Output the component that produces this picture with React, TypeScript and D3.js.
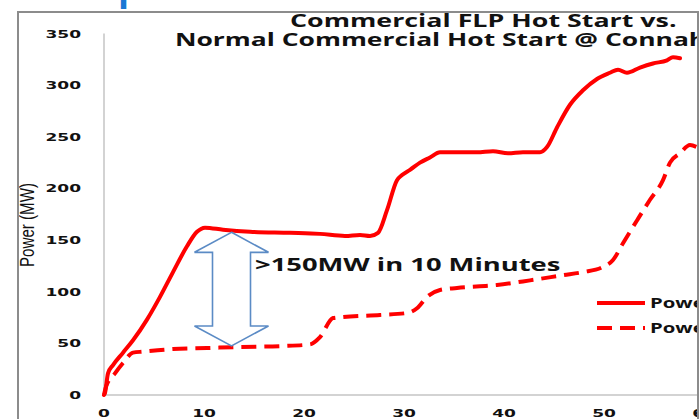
import React from "react";
import * as d3 from "d3";

const flpTime = [0, 0.1, 0.4, 0.9, 1.9, 2.9, 4.3, 5.6, 6.9, 8.3, 9.3, 10.1, 11.9, 14.6, 18.6, 21.6, 24.1, 25.6, 26.6, 27.4, 28.3, 29.3, 29.8, 30.6, 31.6, 32.6, 33.6, 35.6, 37.3, 38.9, 40.4, 41.9, 43.6, 44.3, 45.3, 46.6, 47.9, 49.3, 50.6, 51.4, 52.3, 53.6, 54.9, 56.3, 56.9, 57.6];
const flpPower = [0, 2, 21, 29, 41, 53, 73, 95, 119, 144, 158, 162, 160, 158, 157, 156, 154, 155, 154, 157, 179, 208, 213, 218, 225, 230, 235, 235, 235, 236, 234, 235, 235, 240, 259, 281, 295, 306, 312, 315, 312, 317, 321, 324, 327, 326];

const normalTime = [0, 0.2, 1.1, 1.9, 2.9, 3.9, 6.9, 10.3, 13.6, 17.9, 20.6, 21.6, 22.9, 23.9, 27.6, 30.3, 31.3, 32.3, 33.6, 35.3, 39.3, 42.6, 45.9, 47.9, 49.9, 50.9, 51.9, 53.3, 54.6, 55.9, 56.6, 57.6, 58.6, 59.3];
const normalPower = [0, 8, 21, 31, 41, 42, 44.5, 45.5, 46.5, 47.4, 49, 56, 74.5, 75.5, 77.5, 79.4, 84, 95, 101.7, 103.6, 106.5, 111, 116, 119, 124, 130.7, 147, 169, 189, 208, 225, 234, 242, 240];

const xTicks = [0, 10, 20, 30, 40, 50, 60];
const yTicks = [0, 50, 100, 150, 200, 250, 300, 350];
const titleLines = ["Commercial FLP Hot Start vs.", "Normal Commercial Hot Start @ Connah's Quay"];
const seriesNames = ["Power (MW) FLP Hot Start", "Power (MW) Normal Hot Start"];
const yLabel = "Power (MW)";
const annotation = ">150MW in 10 Minutes";
const slideTitle = "Example";

const W = 700, H = 419;

function T({ x, y, sx = 1.4, anchor = "start", size, weight = "bold", family = "'Open Sans', sans-serif", fill = "#111", children }: any) {
  return (
    <text transform={`translate(${x},${y}) scale(${sx},1)`} textAnchor={anchor} fontSize={size} fontWeight={weight} fontFamily={family} fill={fill}>
      {children}
    </text>
  );
}

export default function App() {
  const x = d3.scaleLinear().domain([0, 60]).range([104, 704]);
  const y = d3.scaleLinear().domain([0, 350]).range([395, 33.5]);
  const line = d3.line<[number, number]>().x(d => x(d[0])).y(d => y(d[1])).curve(d3.curveMonotoneX);
  const flp = line(flpTime.map((t, i) => [t, flpPower[i]]) as [number, number][]) || "";
  const normal = line(normalTime.map((t, i) => [t, normalPower[i]]) as [number, number][]) || "";

  // double arrow annotation, anchored to data coordinates
  const ax = x(12.75);
  const topY = y(157.5), botY = y(47.5);
  const headH = 20, headW = 37, shaftW = 19;
  const arrow = [
    [ax, topY], [ax + headW, topY + headH], [ax + shaftW, topY + headH],
    [ax + shaftW, botY - headH], [ax + headW, botY - headH], [ax, botY],
    [ax - headW, botY - headH], [ax - shaftW, botY - headH], [ax - shaftW, topY + headH],
    [ax - headW, topY + headH]
  ];
  const arrowPath = "M" + arrow.map(p => p.join(",")).join("L") + "Z";

  const tickFont = "'DejaVu Sans', sans-serif";

  return (
    <div style={{ position: "absolute", left: 0, top: 0 }}>
      <svg width={W} height={H} style={{ display: "block", background: "#fff" }}>
        <defs>
          <clipPath id="frame">
            <rect x={18} y={12} width={680} height={H} />
          </clipPath>
        </defs>
        <T x={20} y={0.3} sx={1} size={36} fill="#1a78d4">{slideTitle}</T>
        <g clipPath="url(#frame)">
          <rect x={18} y={12} width={680} height={H} fill="#fff" />
          {/* axes */}
          <line x1={x(0)} x2={x(0)} y1={y(350)} y2={y(0)} stroke="#c4c4c4" strokeWidth={1.5} />
          <line x1={x(0)} x2={x(60)} y1={y(0)} y2={y(0)} stroke="#c4c4c4" strokeWidth={1.5} />
          {yTicks.map(v => (
            <T key={v} x={81} y={y(v) + 4} sx={1.55} anchor="end" size={11} family={tickFont}>{v}</T>
          ))}
          {xTicks.map(v => (
            <T key={v} x={x(v)} y={417} sx={1.55} anchor="middle" size={11} family={tickFont}>{v}</T>
          ))}
          <text transform="translate(34,225) rotate(-90) scale(1,1.3)" textAnchor="middle" fontSize={15} fontFamily="'Liberation Sans', Arial, sans-serif" fill="#111" textLength={84} lengthAdjust="spacingAndGlyphs">{yLabel}</text>
          {/* title */}
          <T x={290} y={27} sx={1.49} size={18}>{titleLines[0]}</T>
          <T x={175} y={46} sx={1.47} size={18}>{titleLines[1]}</T>
          {/* series */}
          <path d={normal} fill="none" stroke="#ff0000" strokeWidth={4} strokeDasharray="15 8" />
          <path d={flp} fill="none" stroke="#ff0000" strokeWidth={4} strokeLinejoin="round" strokeLinecap="round" />
          {/* annotation */}
          <path d={arrowPath} fill="none" stroke="#5b8bc5" strokeWidth={1.6} strokeLinejoin="miter" />
          <T x={255} y={271} sx={1.52} size={18}>{annotation}</T>
          {/* legend */}
          <line x1={597} x2={645} y1={303} y2={303} stroke="#ff0000" strokeWidth={4} />
          <T x={650} y={308} sx={1.45} size={14}>{seriesNames[0]}</T>
          <line x1={597} x2={645} y1={328} y2={328} stroke="#ff0000" strokeWidth={4} strokeDasharray="15 8" />
          <T x={650} y={333} sx={1.45} size={14}>{seriesNames[1]}</T>
        </g>
        <rect x={18} y={12} width={680} height={H} fill="none" stroke="#8c8c8c" strokeWidth={2} />
      </svg>
    </div>
  );
}
